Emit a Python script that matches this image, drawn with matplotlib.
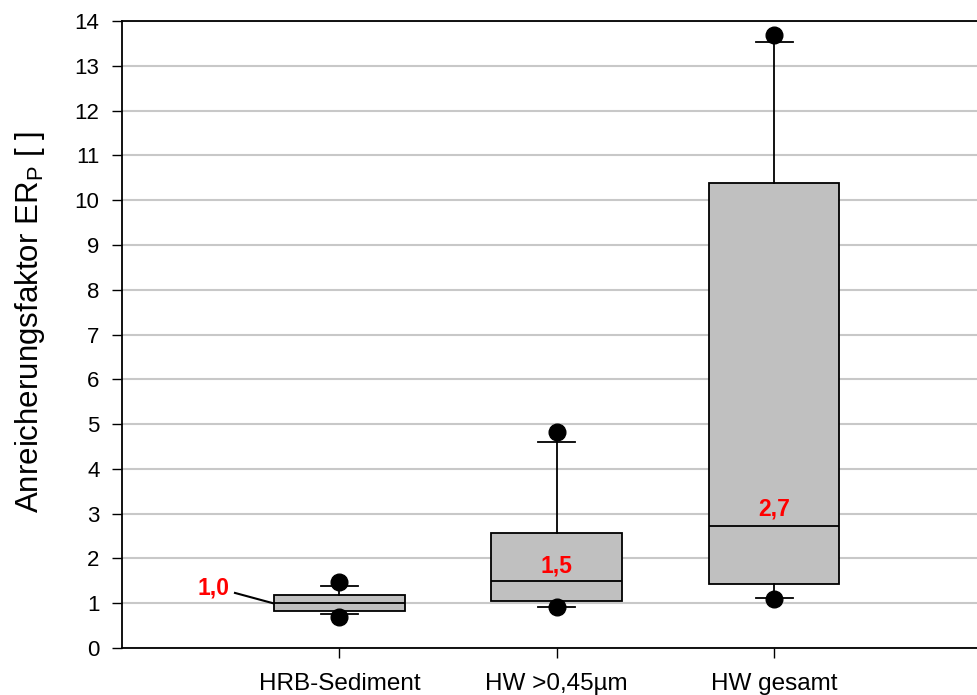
import matplotlib.pyplot as plt

plt.rcParams['font.family'] = ['Liberation Sans', 'DejaVu Sans']

categories = ["HRB-Sediment", "HW >0,45µm", "HW gesamt"]
q1 = [0.83, 1.06, 1.42]
med = [1.01, 1.49, 2.72]
q3 = [1.19, 2.57, 10.39]
whislo = [0.76, 0.92, 1.11]
whishi = [1.39, 4.60, 13.53]
fliers = [[0.69, 1.47], [0.91, 4.83], [1.09, 13.68]]
med_labels = ["1,0", "1,5", "2,7"]


def solve():
    fig = plt.figure(figsize=(9.78, 6.95), dpi=100)
    ax = fig.add_axes([0.1247, 0.0676, 0.889, 0.9022])

    stats = []
    for i in range(len(categories)):
        stats.append({"q1": q1[i], "med": med[i], "q3": q3[i],
                      "whislo": whislo[i], "whishi": whishi[i],
                      "fliers": fliers[i]})

    pos = [1, 2, 3]
    ax.bxp(stats, positions=pos, widths=0.6, patch_artist=True,
           boxprops=dict(facecolor="#c0c0c0", edgecolor="black", linewidth=1.3),
           medianprops=dict(color="black", linewidth=1.3),
           whiskerprops=dict(color="black", linewidth=1.3),
           capprops=dict(color="black", linewidth=1.3),
           capwidths=0.17,
           flierprops=dict(marker="o", markerfacecolor="black",
                           markeredgecolor="black", markersize=12),
           zorder=3)

    # red median labels
    ax.text(0.42, 1.34, med_labels[0], color="red", fontsize=16.5,
            fontweight="bold", ha="center", va="center")
    ax.plot([0.52, 0.695], [1.23, 1.0], color="black", lw=1.5)
    ax.text(2, 1.83, med_labels[1], color="red", fontsize=16.5,
            fontweight="bold", ha="center", va="center", zorder=4)
    ax.text(3, 3.11, med_labels[2], color="red", fontsize=16.5,
            fontweight="bold", ha="center", va="center", zorder=4)

    ax.set_xlim(0, 4)
    ax.set_ylim(0, 14)
    ax.set_yticks(range(0, 15))
    ax.set_xticks(pos)
    ax.set_xticklabels(categories)
    ax.tick_params(length=7.2, width=1, direction="out")
    ax.tick_params(axis="y", labelsize=16, pad=9)
    ax.tick_params(axis="x", labelsize=17.5, pad=10.5)
    ax.yaxis.grid(True, color="#c8c8c8", linewidth=1.5, zorder=0)
    ax.set_axisbelow(True)
    for s in ax.spines.values():
        s.set_linewidth(1.3)

    ax.set_ylabel("Anreicherungsfaktor ER$_\\mathregular{P}$ [ ]", fontsize=22.5)
    ax.yaxis.set_label_coords(-0.086, 0.52)

    plt.savefig("out.png", dpi=100)


def main():
    solve()


if __name__ == "__main__":
    main()
